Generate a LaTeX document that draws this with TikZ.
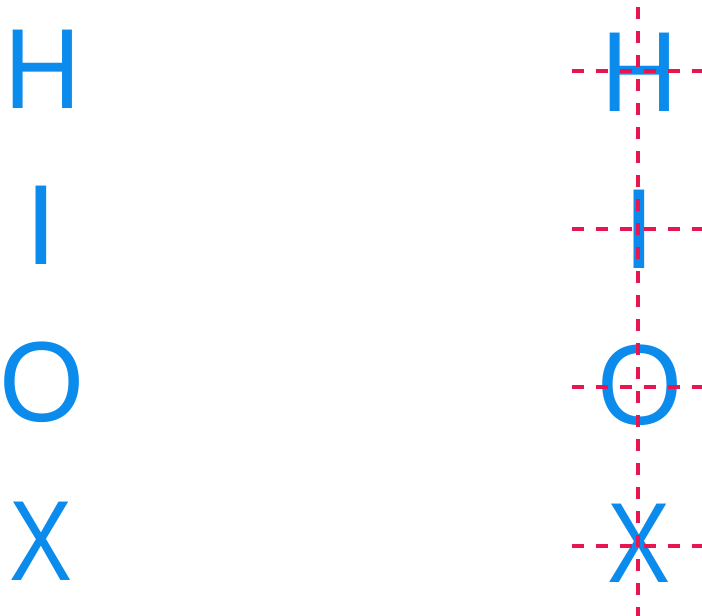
\documentclass[tikz,border=0pt]{standalone}
\usepackage{fontspec}
\usepackage{graphicx}
\setmainfont{Liberation Sans}
\definecolor{letterblue}{RGB}{11,139,236}
\definecolor{guidered}{RGB}{233,21,80}
\newcommand{\glyphH}{\scalebox{0.93}[1]{H}}
\newcommand{\glyphI}{I}
\newcommand{\glyphO}{\scalebox{0.96}[1]{O}}
\newcommand{\glyphX}{\scalebox{0.83}[1]{X}}
\begin{document}
\begin{tikzpicture}[x=1pt,y=-1pt,
  letter/.style={inner sep=0pt,outer sep=0pt,anchor=center,text=letterblue,font=\fontsize{114}{114}\selectfont},
  guide/.style={draw=guidered,line width=4pt,dash pattern=on 12pt off 12pt}]
\useasboundingbox (0,0) rectangle (702,616);
% left column
\node[letter] (lH) at (42.3,69) {\glyphH};
\node[letter] (lI) at (41.5,225.5) {\glyphI};
\node[letter] (lO) at (42.5,382.5) {\glyphO};
\node[letter] (lX) at (41.5,541) {\glyphX};
% right column
\node[letter] (rH) at (640,72.5) {\glyphH};
\node[letter] (rI) at (639.5,229) {\glyphI};
\node[letter] (rO) at (640,385) {\glyphO};
\node[letter] (rX) at (639.5,543) {\glyphX};
% guides
\coordinate (vt) at (638,0);
\coordinate (vb) at (638,616);
\draw[guide,dash phase=17pt] (vt) -- (vb);
\foreach \n/\y in {h1/71,h2/229,h3/387,h4/546}{
  \coordinate (\n a) at (572,\y);
  \coordinate (\n b) at (702,\y);
  \draw[guide] (\n a) -- (\n b);
}
\end{tikzpicture}
\end{document}
